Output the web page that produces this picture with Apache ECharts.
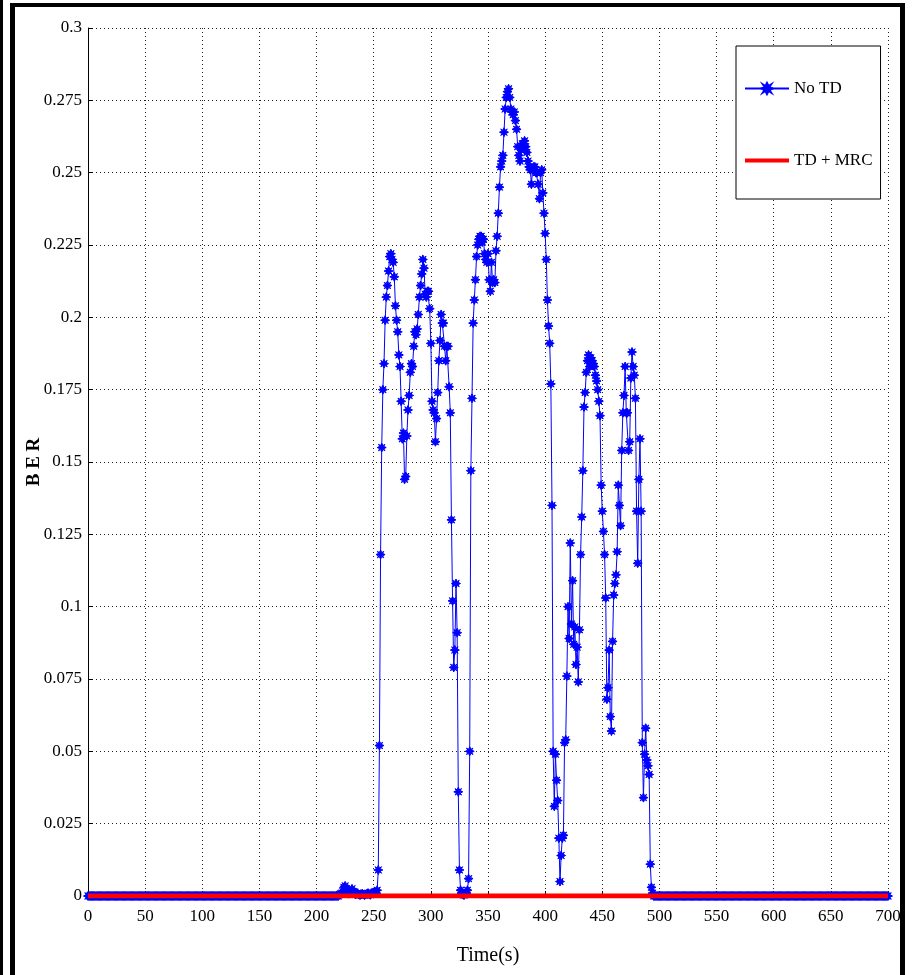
<!DOCTYPE html>
<html>
<head>
<meta charset="utf-8">
<script src="https://cdn.jsdelivr.net/npm/echarts@6/dist/echarts.min.js"></script>
<style>
  html, body { margin: 0; padding: 0; background: #fff; }
  #grafico { width: 912px; height: 975px; }
</style>
</head>
<body>
<div id="grafico"></div>
<script>
// BER over time, one sample per second (index = time in s)
var quietBefore = [ // 0 .. 219 s
  0,0,0,0,0,0,0,0,0,0,0,0,0,0,0,0,0,0,0,0,
  0,0,0,0,0,0,0,0,0,0,0,0,0,0,0,0,0,0,0,0,
  0,0,0,0,0,0,0,0,0,0,0,0,0,0,0,0,0,0,0,0,
  0,0,0,0,0,0,0,0,0,0,0,0,0,0,0,0,0,0,0,0,
  0,0,0,0,0,0,0,0,0,0,0,0,0,0,0,0,0,0,0,0,
  0,0,0,0,0,0,0,0,0,0,0,0,0,0,0,0,0,0,0,0,
  0,0,0,0,0,0,0,0,0,0,0,0,0,0,0,0,0,0,0,0,
  0,0,0,0,0,0,0,0,0,0,0,0,0,0,0,0,0,0,0,0,
  0,0,0,0,0,0,0,0,0,0,0,0,0,0,0,0,0,0,0,0,
  0,0,0,0,0,0,0,0,0,0,0,0,0,0,0,0,0,0,0,0,
  0,0,0,0,0,0,0,0,0,0,0,0,0,0,0,0,0,0,0,0
];
var burst = [ // 220 .. 494 s
  0.0005,0.0008,0.001,0.0015,0.003,0.0035,0.002,0.001,0.0008,0.001,
  0.0015,0.0025,0.0015,0.001,0.0005,0.0008,0.001,0.0005,0.0003,0.0006,
  0.0008,0.0005,0.0003,0.0005,0.0008,0.001,0.0006,0.0004,0.0008,0.001,
  0.0012,0.0015,0.001,0.002,0.009,0.052,0.118,0.155,0.175,0.184,   // 250
  0.199,0.207,0.211,0.216,0.221,0.222,0.22,0.219,0.214,0.204,      // 260
  0.199,0.195,0.187,0.183,0.171,0.158,0.16,0.144,0.145,0.159,      // 270
  0.168,0.173,0.181,0.184,0.183,0.19,0.195,0.194,0.196,0.201,      // 280
  0.207,0.211,0.215,0.22,0.217,0.208,0.207,0.209,0.209,0.203,      // 290
  0.191,0.171,0.168,0.167,0.157,0.165,0.174,0.185,0.192,0.201,     // 300
  0.198,0.198,0.19,0.185,0.19,0.19,0.176,0.167,0.13,0.102,         // 310
  0.079,0.085,0.108,0.091,0.036,0.009,0.002,0.001,0.0005,0.0003,   // 320
  0.0008,0.001,0.002,0.006,0.05,0.147,0.172,0.198,0.206,0.213,     // 330
  0.221,0.225,0.227,0.228,0.228,0.226,0.227,0.222,0.22,0.219,      // 340
  0.222,0.213,0.209,0.219,0.212,0.213,0.212,0.223,0.228,0.236,     // 350
  0.245,0.252,0.254,0.256,0.264,0.272,0.276,0.278,0.279,0.276,     // 360
  0.272,0.271,0.27,0.271,0.268,0.265,0.259,0.256,0.254,0.258,      // 370
  0.26,0.259,0.261,0.259,0.257,0.254,0.252,0.251,0.246,0.251,      // 380
  0.252,0.252,0.25,0.25,0.246,0.241,0.25,0.251,0.243,0.236,        // 390
  0.229,0.22,0.206,0.197,0.191,0.177,0.135,0.05,0.031,0.049,       // 400
  0.04,0.033,0.02,0.005,0.014,0.02,0.021,0.053,0.054,0.076,        // 410
  0.1,0.089,0.122,0.094,0.109,0.087,0.093,0.08,0.086,0.074,        // 420
  0.092,0.118,0.131,0.147,0.169,0.174,0.181,0.185,0.187,0.183,     // 430
  0.186,0.185,0.184,0.183,0.18,0.178,0.175,0.171,0.166,0.142,      // 440
  0.133,0.126,0.118,0.103,0.068,0.072,0.085,0.062,0.057,0.088,     // 450
  0.104,0.108,0.111,0.119,0.142,0.135,0.128,0.154,0.167,0.173,     // 460
  0.183,0.167,0.167,0.154,0.157,0.179,0.188,0.183,0.18,0.172,      // 470
  0.133,0.115,0.144,0.158,0.133,0.053,0.034,0.049,0.058,0.047,     // 480
  0.045,0.042,0.011,0.003,0.001                                    // 490
];
var quietAfter = [ // 495 .. 700 s
  0,0,0,0,0,0,0,0,0,0,0,0,0,0,0,0,0,0,0,0,
  0,0,0,0,0,0,0,0,0,0,0,0,0,0,0,0,0,0,0,0,
  0,0,0,0,0,0,0,0,0,0,0,0,0,0,0,0,0,0,0,0,
  0,0,0,0,0,0,0,0,0,0,0,0,0,0,0,0,0,0,0,0,
  0,0,0,0,0,0,0,0,0,0,0,0,0,0,0,0,0,0,0,0,
  0,0,0,0,0,0,0,0,0,0,0,0,0,0,0,0,0,0,0,0,
  0,0,0,0,0,0,0,0,0,0,0,0,0,0,0,0,0,0,0,0,
  0,0,0,0,0,0,0,0,0,0,0,0,0,0,0,0,0,0,0,0,
  0,0,0,0,0,0,0,0,0,0,0,0,0,0,0,0,0,0,0,0,
  0,0,0,0,0,0,0,0,0,0,0,0,0,0,0,0,0,0,0,0,
  0,0,0,0,0,0
];
// TD + MRC, one sample every 10 s from 0 to 700
var tdMrc = [
  0,0,0,0,0,0,0,0,0,0,0,0,0,0,0,0,0,0,0,0,
  0,0,0,0,0,0,0,0,0,0,0,0,0,0,0,0,0,0,0,0,
  0,0,0,0,0,0,0,0,0,0,0,0,0,0,0,0,0,0,0,0,
  0,0,0,0,0,0,0,0,0,0,0
];

var noTd = quietBefore.concat(burst, quietAfter);
var noTdData = noTd.map(function (v, i) { return [i, v]; });
var tdMrcData = tdMrc.map(function (v, i) { return [i * 10, v]; });

var fonte = '"Liberation Serif", "DejaVu Serif", serif';
// fat 8-point star, like a MATLAB '*' marker
var estrela = 'path://M0,-5L1.4,-2.2L3.6,-3.6L2.2,-1.4L5,0L2.2,1.4L3.6,3.6L1.4,2.2L0,5L-1.4,2.2L-3.6,3.6L-2.2,1.4L-5,0L-2.2,-1.4L-3.6,-3.6L-1.4,-2.2Z';

var chartDom = document.getElementById('grafico');
var myChart = echarts.init(chartDom);
var option;

option = {
  animation: false,
  backgroundColor: '#fff',
  graphic: [
    { type: 'rect', shape: { x: 0, y: 0, width: 3, height: 975 }, style: { fill: '#000' } },
    { type: 'rect', shape: { x: 10, y: 3, width: 5, height: 972 }, style: { fill: '#000' } },
    { type: 'rect', shape: { x: 10, y: 3, width: 895, height: 4 }, style: { fill: '#000' } },
    { type: 'rect', shape: { x: 900, y: 3, width: 5, height: 972 }, style: { fill: '#000' } }
  ],
  grid: { left: 88, right: 24, top: 28, bottom: 79 },
  legend: {
    orient: 'vertical',
    left: 736,
    top: 46,
    padding: [34, 8, 30, 7],
    itemGap: 55,
    itemWidth: 44,
    itemHeight: 14,
    backgroundColor: '#fff',
    borderColor: '#000',
    borderWidth: 1,
    textStyle: { fontFamily: fonte, fontSize: 17, color: '#000' },
    data: [
      'No TD',
      { name: 'TD + MRC', itemStyle: { opacity: 0 }, lineStyle: { width: 4 } }
    ]
  },
  xAxis: {
    type: 'value',
    min: 0,
    max: 700,
    interval: 50,
    name: 'Time(s)',
    nameLocation: 'middle',
    nameGap: 50,
    nameTextStyle: { fontFamily: fonte, fontSize: 20, color: '#000' },
    axisLine: { lineStyle: { color: '#000', width: 1 } },
    axisTick: { inside: true, length: 5, lineStyle: { color: '#000' } },
    axisLabel: { fontFamily: fonte, fontSize: 17, color: '#000', margin: 12 },
    splitLine: { show: true, lineStyle: { color: '#222', type: [1, 3], width: 1 } }
  },
  yAxis: {
    type: 'value',
    min: 0,
    max: 0.3,
    interval: 0.025,
    name: 'B E R',
    nameLocation: 'middle',
    nameRotate: 90,
    nameGap: 44,
    nameMoveOverlap: false,
    nameTextStyle: { fontFamily: fonte, fontSize: 19, fontWeight: 'bold', color: '#000' },
    axisLine: { show: true, lineStyle: { color: '#000', width: 1 } },
    axisTick: { show: true, inside: true, length: 5, lineStyle: { color: '#000' } },
    axisLabel: { fontFamily: fonte, fontSize: 17, color: '#000', margin: 6 },
    splitLine: { show: true, lineStyle: { color: '#222', type: [1, 3], width: 1 } }
  },
  series: [
    {
      name: 'No TD',
      type: 'line',
      data: noTdData,
      symbol: estrela,
      symbolSize: 9,
      showAllSymbol: true,
      color: '#0000ff',
      lineStyle: { color: '#0000ff', width: 1 },
      itemStyle: { color: '#0000ff', borderColor: '#0000ff', borderWidth: 1 },
      z: 2
    },
    {
      name: 'TD + MRC',
      type: 'line',
      data: tdMrcData,
      symbol: 'rect',
      symbolSize: [2, 4],
      showSymbol: false,
      color: '#ff0000',
      lineStyle: { color: '#ff0000', width: 5 },
      itemStyle: { color: '#ff0000' },
      z: 3
    }
  ]
};

option && myChart.setOption(option);
</script>
</body>
</html>
